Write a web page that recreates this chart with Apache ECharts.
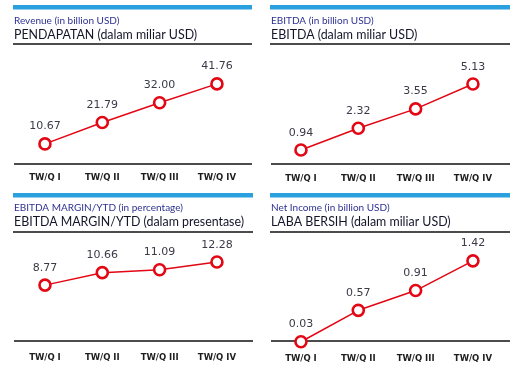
<!DOCTYPE html>
<html><head><meta charset="utf-8">
<script src="https://cdn.jsdelivr.net/npm/echarts@6/dist/echarts.min.js"></script>
<style>html,body{margin:0;padding:0;background:#fff}#c{width:525px;height:374px}</style>
</head><body><div id="c"></div>
<script>
const categories = ['TW/Q I', 'TW/Q II', 'TW/Q III', 'TW/Q IV'];
const revenue = [10.67, 21.79, 32.00, 41.76];
const ebitda = [0.94, 2.32, 3.55, 5.13];
const ebitdaMargin = [8.77, 10.66, 11.09, 12.28];
const netIncome = [0.03, 0.57, 0.91, 1.42];
const labelDigits = [2, 2, 2, 2];
const smallTitles = ['Revenue (in billion USD)', 'EBITDA (in billion USD)', 'EBITDA MARGIN/YTD (in percentage)', 'Net Income (in billion USD)'];
const bigTitles = ['PENDAPATAN (dalam miliar USD)', 'EBITDA (dalam miliar USD)', 'EBITDA MARGIN/YTD (dalam presentase)', 'LABA BERSIH (dalam miliar USD)'];

const chart = echarts.init(document.getElementById('c'), null, {renderer: 'canvas'});
const RED = '#e30613';
const BLUE = '#2aa0df';
const panels = [
  {data: revenue, max: 50, left: 16.3, top: 68, bottom: 164.5, axisY: 164, sx: 13, ex: 252, bar: 5, sy: 20.5, by: 34.5, ul: 44, lm: 9},
  {data: ebitda, max: 6, left: 272.3, top: 70.3, bottom: 164.8, axisY: 164, sx: 270, ex: 510, bar: 5, sy: 20.5, by: 34.5, ul: 44, lm: 9},
  {data: ebitdaMargin, max: 15, left: 16.3, top: 244, bottom: 343, axisY: 341, sx: 13, ex: 253, bar: 193, sy: 207.5, by: 222, ul: 232, lm: 10.5},
  {data: netIncome, max: 1.6, left: 272.3, top: 250.4, bottom: 343.5, axisY: 341, sx: 270, ex: 510, bar: 193, sy: 207.5, by: 222, ul: 232, lm: 10.5}
];
const grid = [], xAxis = [], yAxis = [], series = [], graphic = [];
panels.forEach((p, i) => {
  grid.push({left: p.left, top: p.top, width: 229.3, height: p.bottom - p.top});
  xAxis.push({type: 'category', gridIndex: i, data: categories, boundaryGap: true,
    axisLine: {show: false}, axisTick: {show: false}, splitLine: {show: false},
    axisLabel: {margin: p.lm, color: '#1c1c1c', fontFamily: 'DejaVu Sans', fontWeight: 'bold', fontSize: 8.5}});
  yAxis.push({type: 'value', gridIndex: i, min: 0, max: p.max, show: false});
  series.push({type: 'line', xAxisIndex: i, yAxisIndex: i, data: p.data,
    symbol: 'circle', symbolSize: 11, showAllSymbol: true,
    lineStyle: {color: RED, width: 1.5},
    itemStyle: {color: '#fff', borderColor: RED, borderWidth: 2.6},
    label: {show: true, position: 'top', distance: 5, color: '#3a3a48', fontFamily: 'DejaVu Sans', fontSize: 11,
      formatter: v => v.value.toFixed(labelDigits[i])},
    animation: false, z: 3});
  graphic.push({type: 'rect', shape: {x: p.sx, y: p.bar, width: p.ex - p.sx, height: 4.5}, style: {fill: BLUE}});
  graphic.push({type: 'line', shape: {x1: p.sx, y1: p.ul, x2: p.ex, y2: p.ul}, style: {stroke: '#111', lineWidth: 1.5}});
  graphic.push({type: 'line', shape: {x1: p.sx + 1, y1: p.axisY, x2: p.ex, y2: p.axisY}, style: {stroke: '#111', lineWidth: 1.5}, z: 1});
  graphic.push({type: 'text', x: p.sx + 1, y: p.sy, style: {text: smallTitles[i], fill: '#2e3192', fontFamily: 'Lato', fontSize: 10, textVerticalAlign: 'middle'}});
  graphic.push({type: 'text', x: p.sx + 1, y: p.by, style: {text: bigTitles[i], fill: '#15152a', fontFamily: 'Lato', fontSize: 12.4, textVerticalAlign: 'middle'}});
});
chart.setOption({animation: false, grid, xAxis, yAxis, series, graphic});
</script></body></html>
